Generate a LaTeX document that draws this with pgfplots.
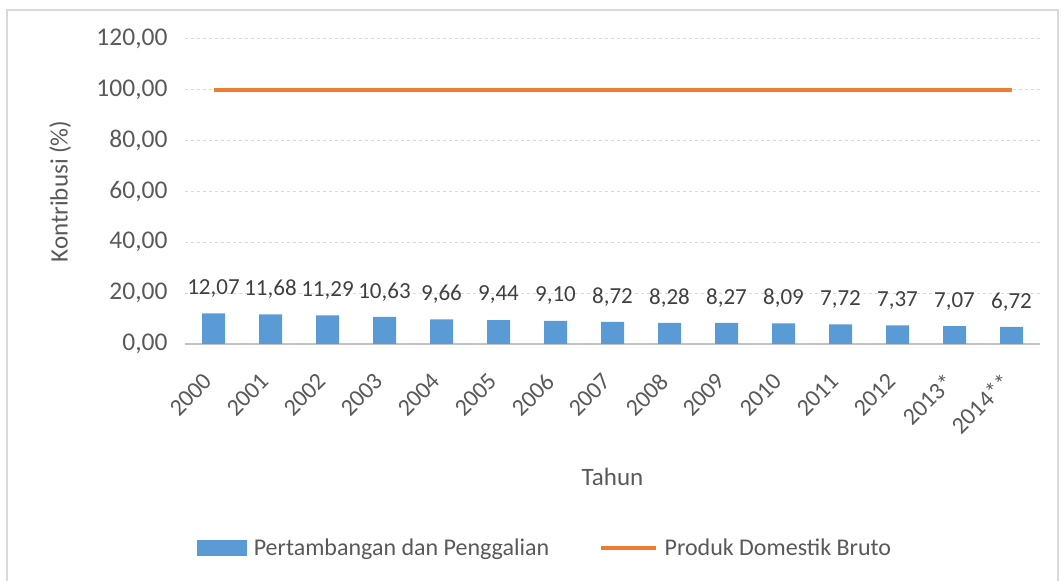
\documentclass[border=0pt]{standalone}
\usepackage{fontspec}
\setmainfont{Carlito}
\usepackage{pgfplots}
\pgfplotsset{compat=1.18}
\definecolor{barblue}{HTML}{5B9BD5}
\definecolor{lineorange}{HTML}{ED7D31}
\definecolor{txtgray}{HTML}{595959}
\definecolor{lblgray}{HTML}{404040}
\definecolor{gridgray}{HTML}{D9D9D9}
\begin{document}
\begin{tikzpicture}[x=1pt,y=1pt]
\useasboundingbox (0,0) rectangle (1061,581);
\draw[color=gridgray, line width=1.5pt] (7,-5) rectangle (1058,571);
\begin{axis}[
  at={(185pt,237pt)}, anchor=south west,
  scale only axis, width=855pt, height=305pt,
  xmin=-0.5, xmax=14.5, ymin=0, ymax=120,
  ytick={0,20,...,120},
  xtick={0,...,14},
  xticklabels={2000,2001,2002,2003,2004,2005,2006,2007,2008,2009,2010,2011,2012,2013*,2014**},
  axis line style={draw=none},
  major tick length=0pt,
  ymajorgrids, grid style={gridgray, dashed, line width=1pt},
  extra y ticks={0}, extra y tick labels={},
  extra y tick style={grid style={solid, gridgray!90!black, line width=1.2pt}},
  /pgf/number format/.cd, fixed, fixed zerofill, precision=2, use comma, 1000 sep={}, assume math mode=true,
  /pgfplots/.cd,
  tick label style={font=\fontsize{25.5}{28}\selectfont, text=txtgray},
  yticklabel style={xshift=-14pt},
  xticklabel style={font=\fontsize{24}{28}\selectfont, xshift=-11pt, yshift=-23pt, rotate=45, anchor=north east},
  xlabel={Tahun}, ylabel={Kontribusi (\%)},
  label style={font=\fontsize{25}{28}\selectfont, text=txtgray},
  xlabel style={at={(axis description cs:0.5,-0.436)}, anchor=center},
  ylabel style={at={(axis description cs:-0.146,0.5)}, anchor=center},
  legend columns=2,
  legend style={at={(axis description cs:0.421,-0.669)}, anchor=center, draw=none,
    font=\fontsize{24}{26}\selectfont, text=txtgray,
    /tikz/every odd column/.append style={column sep=5pt},
    /tikz/every even column/.append style={column sep=48pt}},
]
\addplot[ybar, bar width=23pt, fill=barblue, draw=none,
  nodes near coords,
  every node near coord/.append style={font=\fontsize{23}{26}\selectfont, text=lblgray, anchor=center, yshift=25pt,
    /pgf/number format/.cd, fixed, fixed zerofill, precision=2, use comma, assume math mode=true},
  legend image code/.code={\fill[barblue] (0pt,-8pt) rectangle (50pt,8pt);}
] coordinates {
(0,12.07) (1,11.68) (2,11.29) (3,10.63) (4,9.66) (5,9.44) (6,9.10) (7,8.72)
(8,8.28) (9,8.27) (10,8.09) (11,7.72) (12,7.37) (13,7.07) (14,6.72)};
\addlegendentry{Pertambangan dan Penggalian}
\addplot[lineorange, line width=3.5pt, mark=none,
  legend image code/.code={\draw[lineorange, line width=3.5pt] (0pt,0pt) -- (55pt,0pt);}
] coordinates {
(0,100) (1,100) (2,100) (3,100) (4,100) (5,100) (6,100) (7,100)
(8,100) (9,100) (10,100) (11,100) (12,100) (13,100) (14,100)};
\addlegendentry{Produk Domestik Bruto}
\end{axis}
\end{tikzpicture}
\end{document}
